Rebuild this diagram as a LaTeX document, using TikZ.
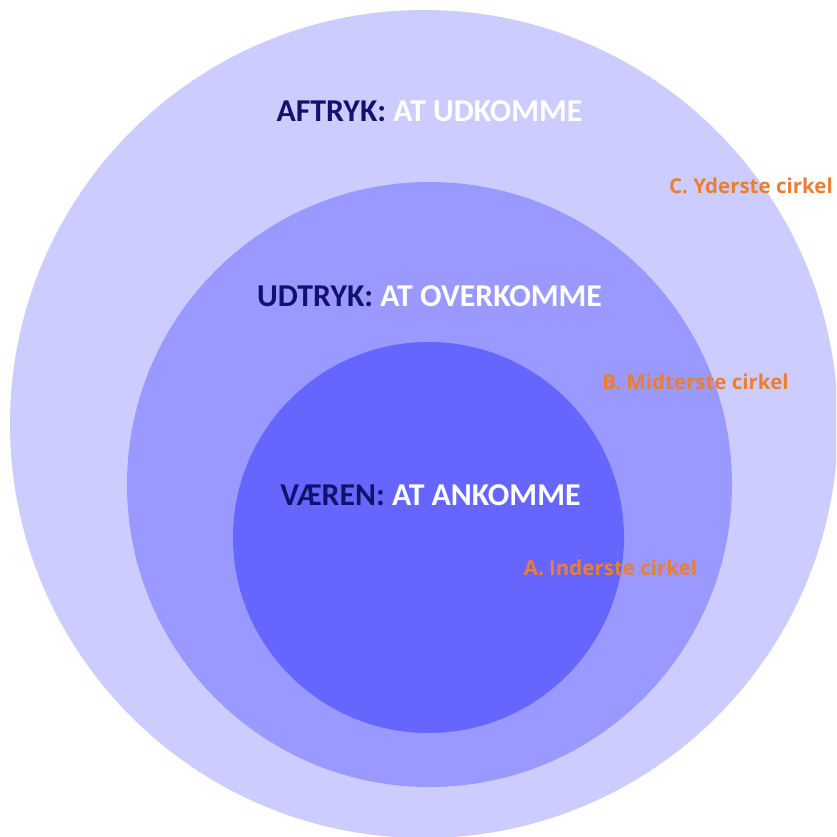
\documentclass[tikz,border=0pt]{standalone}
\usepackage{fontspec}
\setmainfont{Carlito}
\newfontfamily\tagfont{Open Sans}
\definecolor{ringC}{HTML}{CCCCFF}
\definecolor{ringB}{HTML}{9999FF}
\definecolor{ringA}{HTML}{6666FF}
\definecolor{navy}{HTML}{12126E}
\definecolor{lbl}{HTML}{ED7D31}
\begin{document}
\begin{tikzpicture}[x=1pt,y=-1pt,
  ring/.style={circle,draw=none,inner sep=0pt,minimum size=#1},
  title/.style={text=white,font=\bfseries\fontsize{31.8}{36}\selectfont,inner sep=0pt,anchor=center},
  tag/.style={text=lbl,font=\tagfont\bfseries\fontsize{20.5}{24}\selectfont,inner sep=0pt,anchor=center}]
\useasboundingbox (0,0) rectangle (836,837);
\clip (0,0) rectangle (836,837);
\fill[white] (0,0) rectangle (836,837);
\node[ring=828pt,fill=ringC] (outer) at (424,424) {};
\node[ring=605pt,fill=ringB] (middle) at (429.5,484.5) {};
\node[ring=391pt,fill=ringA] (inner) at (428.5,537.5) {};
\node[title] (tC) at (429.5,111) {{\color{navy}AFTRYK:} AT UDKOMME};
\node[title] (tB) at (429.5,296) {{\color{navy}UDTRYK:} AT OVERKOMME};
\node[title] (tA) at (430.5,495) {{\color{navy}VÆREN:} AT ANKOMME};
\node[tag] (lC) at (751,186) {C. Yderste cirkel};
\node[tag] (lB) at (695.5,382) {B. Midterste cirkel};
\node[tag] (lA) at (610.5,568) {A. Inderste cirkel};
\end{tikzpicture}
\end{document}
